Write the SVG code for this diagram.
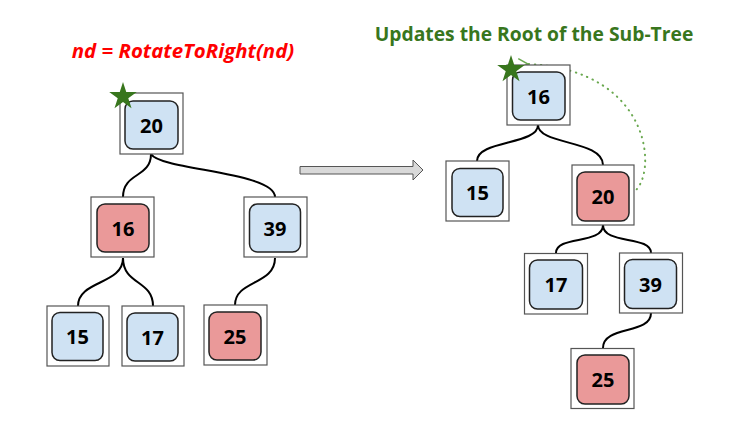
<svg xmlns="http://www.w3.org/2000/svg" width="735" height="441" viewBox="0 0 735 441">
<defs>
<style>
.outer{fill:#fff;stroke:#555;stroke-width:1.2}
.blue{fill:#cfe2f3;stroke:#222;stroke-width:1.5}
.red{fill:#ea9999;stroke:#222;stroke-width:1.5}
.lbl{font-family:"Open Sans","Liberation Sans",sans-serif;font-weight:bold;font-size:20px;fill:#000;text-anchor:middle;dominant-baseline:central}
.edge{fill:none;stroke:#000;stroke-width:2}
.star{fill:#38761d}
</style>
<polygon id="starShape" points="0,-14.5 3.25,-4.48 13.79,-4.48 5.27,1.71 8.52,11.73 0,5.54 -8.52,11.73 -5.27,1.71 -13.79,-4.48 -3.25,-4.48"/>
<marker id="openArrow" viewBox="0 0 12 12" refX="1" refY="6" markerWidth="12" markerHeight="12" markerUnits="userSpaceOnUse" orient="auto">
<path d="M11,1 L1,6 L11,11" fill="none" stroke="#6aa84f" stroke-width="1.5"/>
</marker>
</defs>
<rect width="735" height="441" fill="#fff"/>

<text x="183" y="58" font-family="'Open Sans','Liberation Sans',sans-serif" font-weight="bold" font-style="italic" font-size="20.4" fill="#ff0000" text-anchor="middle">nd = RotateToRight(nd)</text>
<text x="534" y="41" font-family="'Open Sans','Liberation Sans',sans-serif" font-weight="bold" font-size="19.3" fill="#38761d" text-anchor="middle">Updates the Root of the Sub-Tree</text>

<g id="connectors">
<path class="edge" d="M151,154 C151,178 123,172 123,197"/>
<path class="edge" d="M151,154 C160,170 275,172 275,197"/>
<path class="edge" d="M123,258 C123,285 78,280 78,306"/>
<path class="edge" d="M123,258 C123,285 153,280 153,306"/>
<path class="edge" d="M275,258 C275,285 235,280 235,305"/>
<path class="edge" d="M538,125 C538,145 477,140 477,161"/>
<path class="edge" d="M538,125 C538,145 603,140 603,165"/>
<path class="edge" d="M603,225 C603,245 556,235 556,253"/>
<path class="edge" d="M603,225 C603,245 651,235 651,253"/>
<path class="edge" d="M651,313 C651,335 603,325 603,348"/>
<path d="M632,193 C658,180 656,70 528,64" fill="none" stroke="#6aa84f" stroke-width="2" stroke-dasharray="0.5,5.5" stroke-linecap="round" marker-end="url(#openArrow)"/>
<polygon points="300,166.5 413,166.5 413,160 423,170 413,180 413,174 300,174" fill="#d9d9d9" stroke="#555" stroke-width="1"/>
</g>

<g id="L20"><rect class="outer" x="120" y="93" width="63" height="61"/><rect class="blue" x="125" y="101" width="53" height="48" rx="8"/><text class="lbl" x="151.5" y="125">20</text></g>
<g id="L16"><rect class="outer" x="91" y="197" width="63" height="60"/><rect class="red" x="97" y="204" width="52" height="48" rx="8"/><text class="lbl" x="123" y="228">16</text></g>
<g id="L39"><rect class="outer" x="244" y="197" width="63" height="60"/><rect class="blue" x="249.5" y="204" width="51" height="48" rx="8"/><text class="lbl" x="275" y="228">39</text></g>
<g id="L15"><rect class="outer" x="47" y="306" width="62" height="60"/><rect class="blue" x="52" y="312.5" width="51" height="48" rx="8"/><text class="lbl" x="77.5" y="336.5">15</text></g>
<g id="L17"><rect class="outer" x="122" y="306" width="62" height="60"/><rect class="blue" x="127" y="313" width="51" height="48" rx="8"/><text class="lbl" x="152.5" y="337">17</text></g>
<g id="L25"><rect class="outer" x="204" y="305" width="63" height="60"/><rect class="red" x="209" y="312" width="52" height="48" rx="8"/><text class="lbl" x="235" y="336">25</text></g>

<g id="R16"><rect class="outer" x="507" y="65" width="63" height="60"/><rect class="blue" x="512.5" y="72" width="52.5" height="48" rx="8"/><text class="lbl" x="538.5" y="96">16</text></g>
<g id="R15"><rect class="outer" x="446" y="161" width="63" height="60"/><rect class="blue" x="452" y="168.5" width="51" height="48" rx="8"/><text class="lbl" x="477.5" y="192.5">15</text></g>
<g id="R20"><rect class="outer" x="572" y="165" width="62" height="60"/><rect class="red" x="577" y="172" width="52" height="49" rx="8"/><text class="lbl" x="603" y="196">20</text></g>
<g id="R17"><rect class="outer" x="524.5" y="253.5" width="63" height="60.5"/><rect class="blue" x="529.5" y="260" width="53" height="49" rx="8"/><text class="lbl" x="556" y="284.5">17</text></g>
<g id="R39"><rect class="outer" x="619.5" y="253" width="63" height="60"/><rect class="blue" x="624.5" y="259.5" width="52" height="49" rx="8"/><text class="lbl" x="650.5" y="284">39</text></g>
<g id="R25"><rect class="outer" x="571" y="348.5" width="63" height="60"/><rect class="red" x="577" y="355" width="52" height="49" rx="8"/><text class="lbl" x="603" y="379.5">25</text></g>

<g id="starLeft"><use href="#starShape" class="star" transform="translate(123,96.5)"/></g>
<g id="starRight"><use href="#starShape" class="star" transform="translate(511,69.5)"/></g>
</svg>
